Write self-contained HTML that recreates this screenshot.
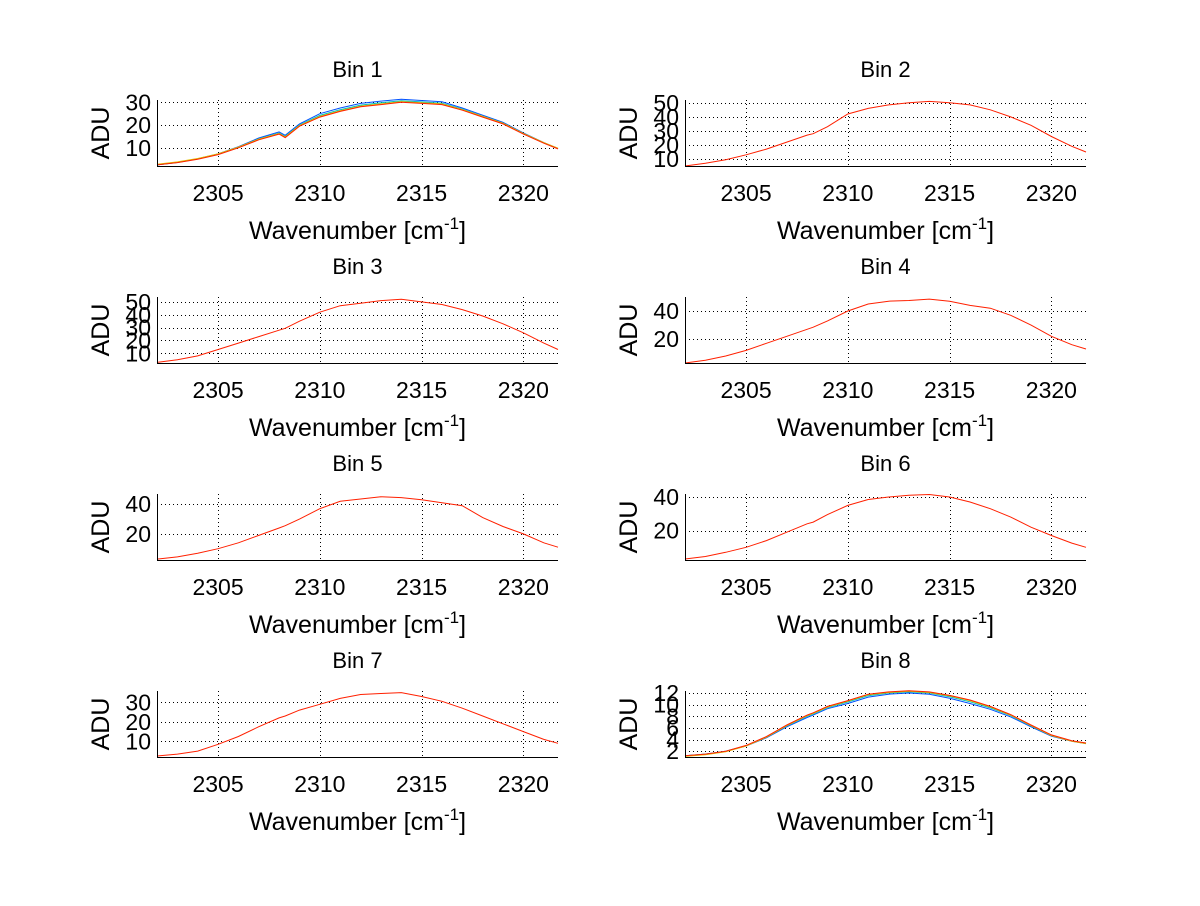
<!DOCTYPE html>
<html><head><meta charset="utf-8"><style>
html,body{margin:0;padding:0;background:#fff;}
svg text{font-family:"Liberation Sans",sans-serif;fill:#000;}
</style></head><body>
<svg id="fig" width="1200" height="901" xmlns="http://www.w3.org/2000/svg"></svg>
<script>
const wavenumbers=[2302,2303,2304,2305,2306,2307,2308,2308.3,2309,2310,2311,2312,2313,2314,2315,2316,2317,2318,2319,2320,2321,2321.7];
const bin1Red=[2.5,3.5,5,7,10,13.5,16,14.5,19.5,23.5,26,28,29,30,29.5,29,26.5,23.5,20.5,16,12,9.5];
const bin1Blue=[2.5,3.6,5.2,7.3,10.5,14.3,17,15.5,20.5,25,27.5,29.5,30.5,31.3,30.8,30.2,27.5,24.3,21.2,16.5,12.3,9.7];
const bin2Red=[5,7,9.5,13,17,22,27,28,33,42,46,48.5,50,51,50,48.5,45,40,34,26,19,15];
const bin3Red=[3,5,8,13,18,23,28,29.5,35,42,47,49,51,52,50,48,44,39,33,26,18,13];
const bin4Red=[3,5,8,12,17,22,27,28.5,33,40,45,47,47.5,48.5,47,44,42,37,30,22,16,13];
const bin5Red=[3,4.5,7,10,14,19,24,25.5,30,37,42,43.5,45,44.5,43,41,39,31,25,20,14,11];
const bin6Red=[3,4.5,7,10,14,19,24,25,29.5,35,38.5,40,41,41.5,40,37,33,28,22,17,12.5,10];
const bin7Red=[2.5,3.5,5,8.5,12.5,17.5,22,23,26,29,32,34,34.5,35,33,30.5,27,23,19,15,11,9];
const bin8Red=[1.2,1.5,2,3,4.5,6.5,8.2,8.6,9.7,10.7,11.8,12.2,12.4,12.2,11.6,10.8,9.7,8.3,6.5,4.8,3.8,3.4];
const bin8Blue=[1.2,1.5,2,2.9,4.3,6.2,7.8,8.2,9.3,10.2,11.3,11.8,12,11.8,11.1,10.2,9.2,7.9,6.2,4.6,3.7,3.3];
const xTicks=[2305,2310,2315,2320];
const yTicks=[[10,20,30],[10,20,30,40,50],[10,20,30,40,50],[20,40],[20,40],[20,40],[10,20,30],[2,4,6,8,10,12]];
const yLims=[[2,31],[5,52],[2.5,53.8],[3,50],[2.4,46.9],[2.4,41.8],[2,35.8],[1,12.35]];
const titles=["Bin 1","Bin 2","Bin 3","Bin 4","Bin 5","Bin 6","Bin 7","Bin 8"];
const seriesRed=[bin1Red,bin2Red,bin3Red,bin4Red,bin5Red,bin6Red,bin7Red,bin8Red];
const xLim=[2302,2321.7];
const NS="http://www.w3.org/2000/svg";
const svg=document.getElementById('fig');
function mk(tag,attrs,parent){const e=document.createElementNS(NS,tag);for(const k in attrs)e.setAttribute(k,attrs[k]);(parent||svg).appendChild(e);return e;}
const tops=[100,297,494,691];const lefts=[157,685];const W=401,H=66;
for(let i=0;i<8;i++){
  const L=lefts[i%2],T=tops[Math.floor(i/2)];
  const g=mk('g',{});
  
  
  const xs=v=>L+(v-xLim[0])/(xLim[1]-xLim[0])*W;
  const ys=v=>T+H-(v-yLims[i][0])/(yLims[i][1]-yLims[i][0])*H;
  xTicks.forEach(t=>{const l=mk('line',{x1:Math.round(xs(t))+0.5,x2:Math.round(xs(t))+0.5,y1:T,y2:T+H,stroke:'#000','stroke-width':1,'stroke-dasharray':'1,3'},g);
    const tx=mk('text',{x:xs(t),y:T+H+35,'font-size':23,'text-anchor':'middle'},g);tx.textContent=t;});
  yTicks[i].forEach(t=>{const l=mk('line',{x1:L,x2:L+W,y1:Math.round(ys(t))+0.5,y2:Math.round(ys(t))+0.5,stroke:'#000','stroke-width':1,'stroke-dasharray':'1,3'},g);
    const tx=mk('text',{x:L-6,y:ys(t)+8,'font-size':23,'text-anchor':'end'},g);tx.textContent=t;});
  const draw=(arr,color,name)=>{const p=mk('polyline',{points:arr.map((v,j)=>xs(wavenumbers[j]).toFixed(1)+','+ys(v).toFixed(1)).join(' '),fill:'none',stroke:color,'stroke-width':1},g);};
  if(i===0){draw(bin1Blue,'#0050ff','series-blue');draw(bin1Blue.map((v,j)=>(v+bin1Red[j])/2),'#00c0c0','series-cyan');draw(bin1Red.map((v,j)=>v+0.3),'#e0c000','series-yellow');}
  if(i===7){draw(bin8Blue,'#0050ff','series-blue');draw(bin8Blue.map((v,j)=>(v+bin8Red[j])/2),'#00c0c0','series-cyan');draw(bin8Red.map(v=>v-0.1),'#e0c000','series-yellow');}
  draw(seriesRed[i],'#ff2000','series-red');
  const ax=mk('path',{d:`M${L+0.5},${T} V${T+H+0.5} H${L+W}`,fill:'none',stroke:'#000','stroke-width':1,'shape-rendering':'crispEdges'},g);
  const cx=L+W/2;
  const ti=mk('text',{x:cx,y:T-23,'font-size':22,'text-anchor':'middle'},g);ti.textContent=titles[i];
  const xl=mk('text',{x:cx,y:T+H+73,'font-size':25,'text-anchor':'middle'},g);xl.innerHTML='Wavenumber [cm<tspan dy="-10" font-size="17">-1</tspan><tspan dy="10">]</tspan>';
  const yl=mk('text',{x:0,y:0,'font-size':25,'text-anchor':'middle',transform:`translate(${L-48},${T+H/2}) rotate(-90)`},g);yl.textContent='ADU';
}
</script>
</body></html>
